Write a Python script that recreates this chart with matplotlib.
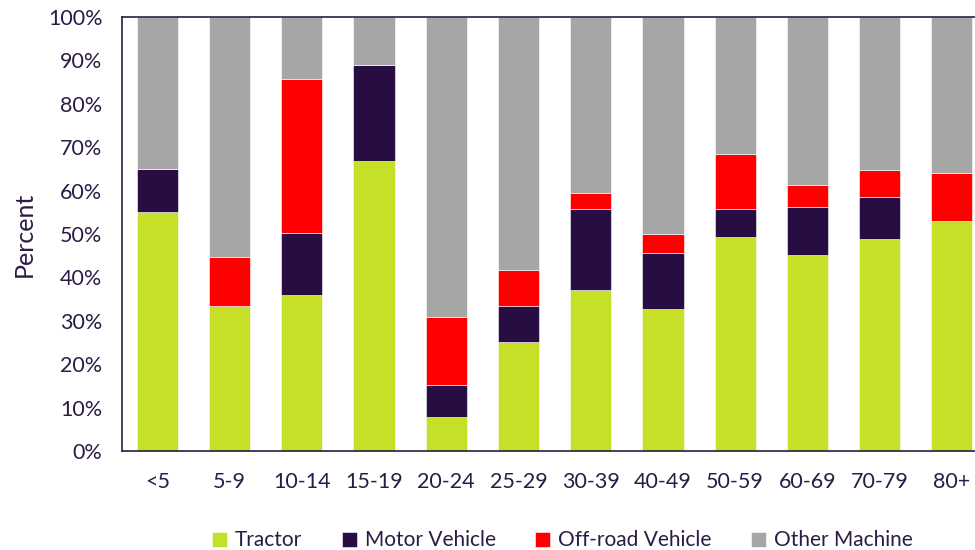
import numpy as np
import matplotlib.pyplot as plt
from matplotlib.ticker import PercentFormatter

# data (percent of each age group)
grupos = ["<5", "5-9", "10-14", "15-19", "20-24", "25-29",
          "30-39", "40-49", "50-59", "60-69", "70-79", "80+"]
tractor = [55.1, 33.4, 35.9, 66.9, 7.9, 25.1, 37.1, 32.8, 49.2, 45.1, 48.9, 53.0]
motor = [9.9, 0.0, 14.3, 22.0, 7.4, 8.3, 18.6, 12.9, 6.5, 11.2, 9.6, 0.0]
offroad = [0.0, 11.2, 35.6, 0.0, 15.5, 8.4, 3.8, 4.4, 12.7, 5.1, 6.3, 11.1]
otros = [100 - a - b - c for a, b, c in zip(tractor, motor, offroad)]

series = ["Tractor", "Motor Vehicle", "Off-road Vehicle", "Other Machine"]
colores = ["#C5E027", "#280D42", "#FF0000", "#A6A6A6"]
texto = "#2B1B45"

plt.rcParams["font.family"] = ["Lato", "DejaVu Sans"]

fig = plt.figure(figsize=(9.75, 5.5), dpi=100)
ax = fig.add_axes([0.125, 0.18, 0.875, 0.789])

x = np.arange(len(grupos))
base = np.zeros(len(grupos))
for nombre, vals, col in zip(series, [tractor, motor, offroad, otros], colores):
    ax.bar(x, vals, width=0.57, bottom=base, color=col, label=nombre,
           edgecolor="white", linewidth=0.4)
    base = base + np.array(vals)

ax.set_xlim(-0.49, 11.32)
ax.set_ylim(0, 100)
ax.set_yticks(np.arange(0, 101, 10))
ax.yaxis.set_major_formatter(PercentFormatter(decimals=0))
ax.set_xticks(x)
ax.set_xticklabels(grupos)
ax.tick_params(axis="both", length=0, labelsize=15.5, colors=texto)
ax.tick_params(axis="x", pad=15)
ax.tick_params(axis="y", pad=14)

for lado in ["left", "bottom", "top"]:
    ax.spines[lado].set_color(texto)
    ax.spines[lado].set_linewidth(1.2)
ax.spines["right"].set_visible(False)

ax.set_ylabel("Percent", fontsize=18, color=texto, labelpad=9)

ley = fig.legend(loc="lower center", bbox_to_anchor=(0.577, -0.035), ncol=4,
                 frameon=False, fontsize=15, handlelength=0.7, handleheight=0.7,
                 handletextpad=0.4, columnspacing=1.9)
for t in ley.get_texts():
    t.set_color(texto)

fig.savefig("out.png", dpi=100)
